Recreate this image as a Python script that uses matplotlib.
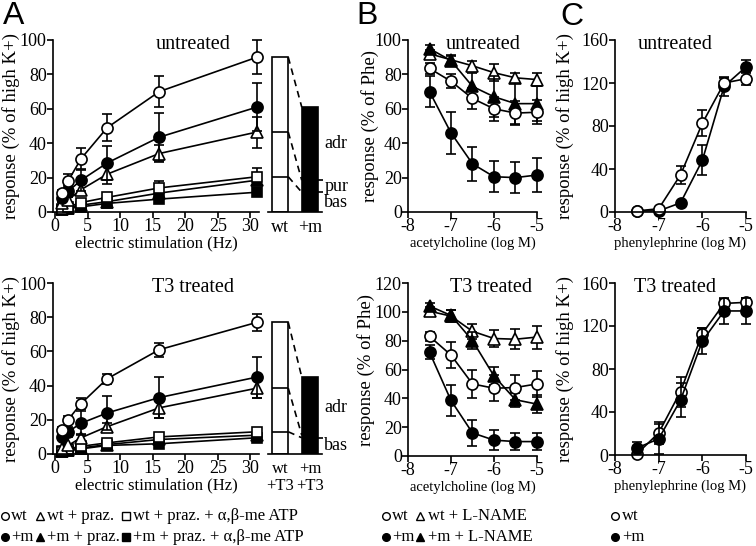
import matplotlib
matplotlib.use("Agg")
import matplotlib.pyplot as plt
from matplotlib.lines import Line2D

plt.rcParams['font.family'] = ['Liberation Serif', 'DejaVu Serif']

# ---- panel A: electric stimulation ----
freq = [1, 2, 4, 8, 16, 31]

a_wt = [11, 18, 31, 49, 70, 90]
a_wt_err = [2, 4, 6, 8, 9, 10]
a_m = [8, 12, 18.5, 28.5, 43.5, 61]
a_m_err = [2, 3, 6, 10, 14, 14]
a_wt_praz = [5, 7, 13, 22, 34, 46.5]
a_wt_praz_err = [1, 2, 3, 6, 5, 9]
a_m_praz = [1.5, 2.5, 4, 6, 11, 18.5]
a_m_praz_err = [0.5, 1, 1, 1.5, 2, 3]
a_wt_atp = [2, 3, 5.5, 8.5, 14, 20.5]
a_wt_atp_err = [1, 1, 1, 2, 4, 5]
a_m_atp = [1, 2, 3, 5, 7.5, 11.5]
a_m_atp_err = [0.5, 0.5, 1, 1, 1.5, 2]

t3_wt = [14, 20, 29.5, 44, 61, 77]
t3_wt_err = [2, 2, 3, 3, 4, 5]
t3_m = [10, 13, 18, 24, 33, 45]
t3_m_err = [2, 3, 7, 10, 12, 12]
t3_wt_praz = [3, 5, 9.5, 16, 27, 38.5]
t3_wt_praz_err = [1, 1, 2, 2, 6, 6]
t3_m_praz = [1.5, 2.5, 3.5, 5.5, 8.5, 11]
t3_m_praz_err = [0.5, 0.5, 1, 1, 1, 1.5]
t3_wt_atp = [2, 3, 4.5, 6.5, 10, 13]
t3_wt_atp_err = [0.5, 1, 1, 1, 1.5, 2]
t3_m_atp = [1, 2, 3, 5, 6, 9.5]
t3_m_atp_err = [0.5, 0.5, 0.5, 1, 1, 1.5]

bar_labels = ["wt", "+m"]
bar_labels_t3 = ["wt\n+T3", "+m\n+T3"]

# ---- panel B: acetylcholine ----
ach = [-7.5, -7, -6.5, -6, -5.5, -5]
b_wt = [83.5, 76, 66, 60, 57.5, 58]
b_wt_err = [3, 4, 6, 7, 7, 7]
b_m = [70, 46, 28, 20.5, 20, 21.5]
b_m_err = [9, 12, 10, 9, 9, 10]
b_wt_ln = [92, 88.5, 85, 81, 78, 77]
b_wt_ln_err = [2, 2, 3, 5, 3, 4]
b_m_ln = [95, 88, 73, 67, 63, 63]
b_m_ln_err = [2, 3, 8, 12, 12, 10]

bt3_wt = [83, 70, 50, 47, 47.5, 50]
bt3_wt_err = [3, 9, 10, 9, 9, 9]
bt3_m = [72, 38.5, 16, 11, 10, 10]
bt3_m_err = [5, 11, 9, 7, 6, 6]
bt3_wt_ln = [100.5, 97, 86.5, 81.5, 81, 82.5]
bt3_wt_ln_err = [3, 4, 5, 6, 7, 8]
bt3_m_ln = [104, 97.5, 80, 55.5, 39, 36]
bt3_m_ln_err = [2, 4, 6, 6, 5, 6]

# ---- panel C: phenylephrine ----
phe = [-7.5, -7, -6.5, -6, -5.5, -5]
c_wt = [1, 3, 34.5, 82.5, 120, 124]
c_wt_err = [1, 2, 8, 12, 5, 6]
c_m = [1, 1, 8.5, 48, 117, 135]
c_m_err = [1, 1, 2, 14, 9, 6]
ct3_wt = [1, 20.5, 59, 113, 141, 142]
ct3_wt_err = [3, 10, 14, 5, 4, 4]
ct3_m = [6.5, 15, 51, 106, 134, 134]
ct3_m_err = [6, 14, 16, 12, 12, 12]

W, H = 756, 546
fig = plt.figure(figsize=(W / 100, H / 100), dpi=100)
TICK_FS = 13
TITLE_FS = 14.5
XLAB_FS = 10.5
YLAB_FS = 13.5
LW = 1.2


def add_ax(l, t, r, b):
    return fig.add_axes([l / W, 1 - b / H, (r - l) / W, (b - t) / H])


def style(ax):
    for s in ['top', 'right']:
        ax.spines[s].set_visible(False)
    for s in ['left', 'bottom']:
        ax.spines[s].set_linewidth(LW)
    ax.tick_params(direction='out', length=4, width=LW, labelsize=TICK_FS, pad=0.5)


def series(ax, x, y, e, marker, filled, ms):
    eb = ax.errorbar(x, y, yerr=e, fmt='none', ecolor='k', elinewidth=LW,
                     capsize=3.5, capthick=LW)
    for a in list(eb.lines[1]) + list(eb.lines[2]):
        a.set_clip_on(False)
    ax.plot(x, y, '-', color='k', lw=LW, marker=marker, ms=ms,
            mfc='k' if filled else 'white', mec='k', mew=LW, clip_on=False)


def ylab(ax, text, center_px, left_px, width_px):
    ax.set_ylabel(text, fontsize=YLAB_FS)
    # anchor is the right side of the rotated text
    ax.yaxis.set_label_coords((center_px + 9 - left_px) / width_px, 0.5)


def stim_panel(ax, title, groups):
    style(ax)
    for y, e, mk, filled, ms in groups:
        series(ax, freq, y, e, mk, filled, ms)
    ax.set_xlim(-0.31, 31.31)
    ax.set_ylim(0, 100)
    ax.set_xticks([0, 5, 10, 15, 20, 25, 30])
    ax.set_yticks([0, 20, 40, 60, 80, 100])
    ylab(ax, "response (% of high K+)", 11.5, 53, 206)
    ax.text(0.68, 0.975, title, transform=ax.transAxes, ha='center',
            va='center', fontsize=TITLE_FS)
    ax.set_xlabel("electric stimulation (Hz)", fontsize=12, labelpad=0)


def bar_panel(ax, wt_levels, m_levels, names, ticklabels, fs):
    # wt_levels / m_levels: [total, +praz, +praz+ATP] at the highest frequency
    for s in ['top', 'right', 'left']:
        ax.spines[s].set_visible(False)
    ax.spines['bottom'].set_linewidth(LW)
    w = 0.55
    ax.bar([0], [wt_levels[0]], width=w, color='white', edgecolor='k', lw=LW)
    ax.hlines(wt_levels[1:], -w / 2, w / 2, color='k', lw=LW)
    ax.bar([1], [m_levels[0]], width=w, color='k', edgecolor='k', lw=LW)
    for a, b in zip(wt_levels, m_levels):
        ax.plot([w / 2, 1 - w / 2], [a, b], color='k', lw=LW, dashes=(4, 3))
    bounds = [0] + sorted(m_levels[len(m_levels) - len(names) + 1:]) + [m_levels[0]]
    ax.hlines(bounds[1:-1], 1 + w / 2, 1 + w / 2 + 0.15, color='k', lw=LW,
              clip_on=False)
    for nm, lo, hi in zip(names[::-1], bounds[:-1], bounds[1:]):
        ax.text(1 + w / 2 + 0.2, (lo + hi) / 2, nm, ha='left', va='center',
                fontsize=13, clip_on=False)
    ax.set_xlim(-0.4, 1.4)
    ax.set_ylim(0, 100)
    ax.set_yticks([])
    ax.set_xticks([0, 1])
    ax.set_xticklabels(ticklabels, fontsize=fs, linespacing=1.05)
    ax.tick_params(axis='x', length=0, pad=5)


def conc_panel(ax, x, groups, ylim, yticks, ylabel, title, tx, xlabel, lab_c):
    style(ax)
    for y, e, mk, filled, ms in groups:
        series(ax, x, y, e, mk, filled, ms)
    ax.set_xlim(-8, -5)
    ax.set_ylim(*ylim)
    ax.set_xticks([-8, -7, -6, -5])
    ax.set_xticklabels(["-8", "-7", "-6", "-5"])
    ax.set_yticks(yticks)
    pos = ax.get_position()
    ylab(ax, ylabel, lab_c, pos.x0 * W, pos.width * W)
    ax.text(tx, 0.975, title, transform=ax.transAxes, ha='center',
            va='center', fontsize=TITLE_FS)
    ax.set_xlabel(xlabel, fontsize=XLAB_FS, labelpad=1)


MC, MT, MS = 8, 8, 6.5

# A untreated
axA1 = add_ax(53, 40, 259, 212)
stim_panel(axA1, "untreated", [
    (a_m_atp, a_m_atp_err, 's', True, MS),
    (a_m_praz, a_m_praz_err, '^', True, MT),
    (a_wt_atp, a_wt_atp_err, 's', False, MS),
    (a_wt_praz, a_wt_praz_err, '^', False, MT),
    (a_m, a_m_err, 'o', True, MC),
    (a_wt, a_wt_err, 'o', False, MC),
])
axA1b = add_ax(268, 40, 322, 212)
bar_panel(axA1b, [a_wt[-1], a_wt_praz[-1], a_wt_atp[-1]],
          [a_m[-1], a_m_praz[-1], a_m_atp[-1]], ["adr", "pur", "bas"],
          bar_labels, 13)

# A T3 treated
axA2 = add_ax(53, 283, 259, 454)
stim_panel(axA2, "T3 treated", [
    (t3_m_atp, t3_m_atp_err, 's', True, MS),
    (t3_m_praz, t3_m_praz_err, '^', True, MT),
    (t3_wt_atp, t3_wt_atp_err, 's', False, MS),
    (t3_wt_praz, t3_wt_praz_err, '^', False, MT),
    (t3_m, t3_m_err, 'o', True, MC),
    (t3_wt, t3_wt_err, 'o', False, MC),
])
axA2b = add_ax(268, 283, 322, 454)
bar_panel(axA2b, [t3_wt[-1], t3_wt_praz[-1], t3_wt_atp[-1]],
          [t3_m[-1], t3_m_praz[-1], t3_m_atp[-1]], ["adr", "bas"],
          bar_labels_t3, 12)

# B
axB1 = add_ax(408, 40, 537, 212)
conc_panel(axB1, ach, [
    (b_wt_ln, b_wt_ln_err, '^', False, MT),
    (b_m_ln, b_m_ln_err, '^', True, MT),
    (b_wt, b_wt_err, 'o', False, MC),
    (b_m, b_m_err, 'o', True, MC),
], (0, 100), [0, 20, 40, 60, 80, 100], "response (% of Phe)", "untreated",
    0.58, "acetylcholine (log M)", 370)
axB2 = add_ax(408, 283, 537, 456)
conc_panel(axB2, ach, [
    (bt3_wt_ln, bt3_wt_ln_err, '^', False, MT),
    (bt3_m_ln, bt3_m_ln_err, '^', True, MT),
    (bt3_wt, bt3_wt_err, 'o', False, MC),
    (bt3_m, bt3_m_err, 'o', True, MC),
], (0, 120), [0, 20, 40, 60, 80, 100, 120], "response (% of Phe)", "T3 treated",
    0.64, "acetylcholine (log M)", 366)

# C
axC1 = add_ax(615, 40, 746, 212)
conc_panel(axC1, phe, [
    (c_m, c_m_err, 'o', True, MC),
    (c_wt, c_wt_err, 'o', False, MC),
], (0, 160), [0, 40, 80, 120, 160], "response (% of high K+)", "untreated",
    0.46, "phenylephrine (log M)", 565)
axC2 = add_ax(615, 283, 746, 455)
conc_panel(axC2, phe, [
    (ct3_wt, ct3_wt_err, 'o', False, MC),
    (ct3_m, ct3_m_err, 'o', True, MC),
], (0, 160), [0, 40, 80, 120, 160], "response (% of high K+)", "T3 treated",
    0.46, "phenylephrine (log M)", 565)

# panel letters
for x, y, s in [(14, 16, "A"), (367, 16, "B"), (572, 17, "C")]:
    fig.text(x / W, 1 - y / H, s, family='Liberation Sans', fontsize=23,
             ha='center', va='center')

# legend keys below the panels: (marker x, text x, marker, filled, label, row y)
legend_rows = [
    (5, 11, 'o', False, "wt", 516), (40, 47, '^', False, "wt + praz.", 516),
    (126, 133, 's', False, "wt + praz. + α,β-me ATP", 516),
    (5, 11, 'o', True, "+m", 537), (40, 47, '^', True, "+m + praz.", 537),
    (126, 133, 's', True, "+m + praz. + α,β-me ATP", 537),
    (386, 392, 'o', False, "wt", 516), (420, 428, '^', False, "wt + L-NAME", 516),
    (386, 392, 'o', True, "+m", 537), (420, 428, '^', True, "+m + L-NAME", 537),
    (615, 622, 'o', False, "wt", 516), (615, 622, 'o', True, "+m", 537),
]
for mx, tx, mk, filled, label, y in legend_rows:
    fig.add_artist(Line2D([mx / W], [1 - y / H], transform=fig.transFigure,
                          ls='none', marker=mk, ms=5.5, mew=1, mec='k',
                          mfc='k' if filled else 'white'))
    fig.text(tx / W, 1 - y / H, label, fontsize=12, ha='left', va='center')

fig.savefig("out.png", dpi=100)
